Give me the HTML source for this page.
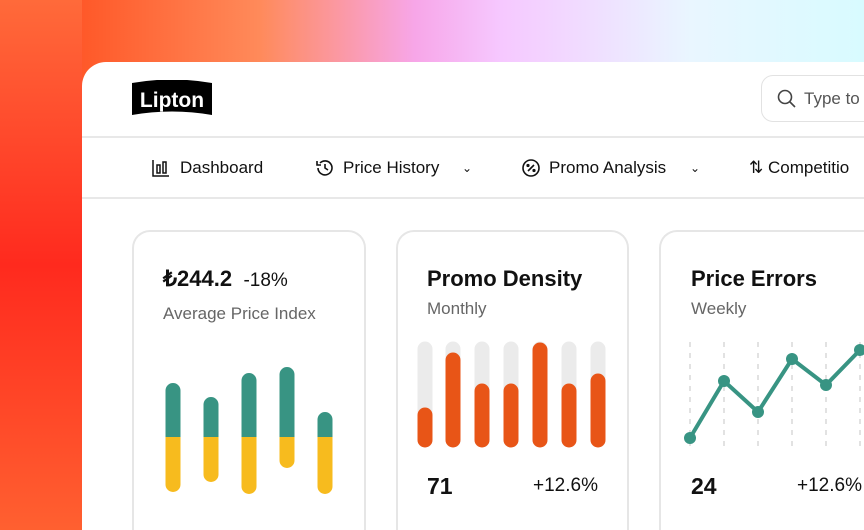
<!DOCTYPE html>
<html><head><meta charset="utf-8"><style>
*{margin:0;padding:0;box-sizing:border-box}
html{width:864px;height:530px;overflow:hidden}
body{width:864px;height:530px;overflow:hidden;position:relative;font-family:"Liberation Sans",sans-serif;color:#111;
background:linear-gradient(90deg,#ff3a22 0%,#ff5a2a 10%,#ff8a5a 30%,#f7a6e8 48%,#f6c8ff 58%,#e9f6ff 80%,#d8fbff 100%);}
.bgl{position:absolute;left:0;top:0;width:82px;height:530px;background:linear-gradient(180deg,#ff6a3a 0%,#ff2a1e 50%,#ff6030 100%)}
.main{position:absolute;left:82px;top:62px;width:782px;height:468px;background:#fff;border-top-left-radius:24px}
.hl{position:absolute;left:0;right:0;height:2px;background:#e8e8e8}
.nav{position:absolute;top:158px;font-size:17px;color:#111}
.card{position:absolute;top:230px;height:300px;border:2px solid #e6e6e6;border-bottom:none;border-radius:18px 18px 0 0;background:#fff}
.t{position:absolute;font-size:22px;font-weight:bold}
.s{position:absolute;font-size:17px;color:#666}
.n{position:absolute;font-size:23px;font-weight:bold;top:473px}
.p{position:absolute;font-size:19px;top:475px}
</style></head><body>
<div class="bgl"></div>
<div class="main"></div>
<div class="hl" style="top:136px;left:82px"></div>
<div class="hl" style="top:197px;left:82px"></div>
<svg style="position:absolute;left:130px;top:80px" width="84" height="38"><path d="M2 3 Q42 -4 82 3 L82 35 Q42 28 2 35Z" fill="#000"/><text x="42" y="27" text-anchor="middle" font-family="Liberation Sans" font-weight="bold" font-size="21" fill="#fff">Lipton</text></svg>
<div style="position:absolute;left:761px;top:75px;width:130px;height:47px;border:1.5px solid #e2e2e2;border-radius:12px"></div>
<svg style="position:absolute;left:777px;top:89px" width="20" height="20"><circle cx="8" cy="8" r="6.5" fill="none" stroke="#444" stroke-width="1.6"/><line x1="13" y1="13" x2="18" y2="18" stroke="#444" stroke-width="1.6"/></svg>
<div style="position:absolute;left:804px;top:89px;font-size:17px;color:#555">Type to</div>
<svg style="position:absolute;left:152px;top:159px" width="18" height="18" fill="none" stroke="#111" stroke-width="1.5"><path d="M1 1V17H17"/><rect x="5" y="6" width="3" height="8"/><rect x="11" y="3" width="3" height="11"/></svg>
<div class="nav" style="left:180px">Dashboard</div>
<svg style="position:absolute;left:315px;top:158px" width="20" height="20" fill="none" stroke="#111" stroke-width="1.6"><path d="M3 10a7 7 0 1 0 2-5"/><path d="M2 3v4h4"/><path d="M10 6v4l3 2"/></svg>
<div class="nav" style="left:343px">Price History</div>
<div class="nav" style="left:462px;font-size:12px;top:161px">⌄</div>
<svg style="position:absolute;left:521px;top:158px" width="20" height="20" fill="none" stroke="#111" stroke-width="1.6"><circle cx="10" cy="10" r="8"/><line x1="7" y1="13" x2="13" y2="7"/><circle cx="7" cy="7.5" r=".8"/><circle cx="13" cy="12.5" r=".8"/></svg>
<div class="nav" style="left:549px">Promo Analysis</div>
<div class="nav" style="left:690px;font-size:12px;top:161px">⌄</div>
<div class="nav" style="left:749px">⇅ Competitio</div>

<div class="card" style="left:132px;width:234px"></div>
<div class="card" style="left:396px;width:233px"></div>
<div class="card" style="left:659px;width:205px;border-right:none;border-top-right-radius:0"></div>

<div class="t" style="left:163px;top:266px">₺244.2 <span style="font-weight:normal;font-size:19px">&nbsp;-18%</span></div>
<div class="s" style="left:163px;top:304px">Average Price Index</div>
<div class="t" style="left:427px;top:266px">Promo Density</div>
<div class="s" style="left:427px;top:299px">Monthly</div>
<div class="t" style="left:691px;top:266px">Price Errors</div>
<div class="s" style="left:691px;top:299px">Weekly</div>

<svg style="position:absolute;left:0;top:0" width="864" height="530">
<g fill="#389483">
<path d="M165.5 437V390.5A7.5 7.5 0 0 1 180.5 390.5V437Z"/>
<path d="M203.5 437V404.5A7.5 7.5 0 0 1 218.5 404.5V437Z"/>
<path d="M241.5 437V380.5A7.5 7.5 0 0 1 256.5 380.5V437Z"/>
<path d="M279.5 437V374.5A7.5 7.5 0 0 1 294.5 374.5V437Z"/>
<path d="M317.5 437V419.5A7.5 7.5 0 0 1 332.5 419.5V437Z"/>
</g>
<g fill="#f7bb1e">
<path d="M165.5 437V484.5A7.5 7.5 0 0 0 180.5 484.5V437Z"/>
<path d="M203.5 437V474.5A7.5 7.5 0 0 0 218.5 474.5V437Z"/>
<path d="M241.5 437V486.5A7.5 7.5 0 0 0 256.5 486.5V437Z"/>
<path d="M279.5 437V460.5A7.5 7.5 0 0 0 294.5 460.5V437Z"/>
<path d="M317.5 437V486.5A7.5 7.5 0 0 0 332.5 486.5V437Z"/>
</g>
<g stroke-linecap="round" stroke-width="15" stroke="#ebebeb">
<line x1="425" y1="349" x2="425" y2="440"/><line x1="453" y1="349" x2="453" y2="440"/><line x1="482" y1="349" x2="482" y2="440"/><line x1="511" y1="349" x2="511" y2="440"/><line x1="540" y1="349" x2="540" y2="440"/><line x1="569" y1="349" x2="569" y2="440"/><line x1="598" y1="349" x2="598" y2="440"/>
</g>
<g stroke-linecap="round" stroke-width="15" stroke="#e85517">
<line x1="425" y1="415" x2="425" y2="440"/><line x1="453" y1="360" x2="453" y2="440"/><line x1="482" y1="391" x2="482" y2="440"/><line x1="511" y1="391" x2="511" y2="440"/><line x1="540" y1="350" x2="540" y2="440"/><line x1="569" y1="391" x2="569" y2="440"/><line x1="598" y1="381" x2="598" y2="440"/>
</g>
<g stroke="#d8d8d8" stroke-width="1.5" stroke-dasharray="5 6">
<line x1="690" y1="342" x2="690" y2="448"/><line x1="724" y1="342" x2="724" y2="448"/><line x1="758" y1="342" x2="758" y2="448"/><line x1="792" y1="342" x2="792" y2="448"/><line x1="826" y1="342" x2="826" y2="448"/><line x1="860" y1="342" x2="860" y2="448"/>
</g>
<polyline points="690,438 724,381 758,412 792,359 826,385 860,350" fill="none" stroke="#389483" stroke-width="4" stroke-linejoin="round"/>
<g fill="#389483"><circle cx="690" cy="438" r="6"/><circle cx="724" cy="381" r="6"/><circle cx="758" cy="412" r="6"/><circle cx="792" cy="359" r="6"/><circle cx="826" cy="385" r="6"/><circle cx="860" cy="350" r="6"/></g>
</svg>
<div class="n" style="left:427px">71</div>
<div class="p" style="left:533px">+12.6%</div>
<div class="n" style="left:691px">24</div>
<div class="p" style="left:797px">+12.6%</div>
</body></html>
